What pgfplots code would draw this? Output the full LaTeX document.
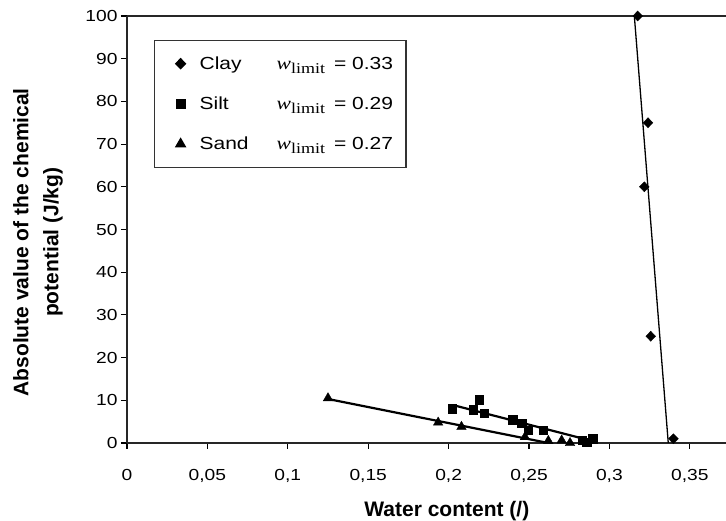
\documentclass[border=0pt]{standalone}
\usepackage{fontspec}
\setmainfont{Liberation Sans}
\newfontfamily\stretchsans{Liberation Sans}[FakeStretch=1.2]
\newfontfamily\stretchserif{Liberation Serif}[FakeStretch=1.2]
\usepackage{pgfplots}
\pgfplotsset{compat=1.18}
\newcommand{\wl}[1]{{\stretchserif\itshape\fontsize{18}{18}\selectfont w}\raisebox{-4pt}{\stretchserif\fontsize{15}{15}\selectfont limit}\hspace{9pt}#1}
\begin{document}
\begin{tikzpicture}
\begin{axis}[
  at={(0pt,0pt)}, anchor=south west,
  scale only axis, width=599pt, height=427pt,
  xmin=0, xmax=0.3725, ymin=0, ymax=100,
  axis x line*=box, axis y line*=left,
  axis line style={black!85, line width=1.3pt},
  xtick={0,0.05,0.1,0.15,0.2,0.25,0.3,0.35},
  xticklabels={0,{0,05},{0,1},{0,15},{0,2},{0,25},{0,3},{0,35}},
  xtick pos=bottom, ytick pos=left,
  ytick={0,10,...,100},
  tick align=outside, major tick length=6pt,
  tick style={black, line width=1.1pt},
  /pgf/number format/assume math mode=true,
  ticklabel style={font=\stretchsans\fontsize{16}{16}\selectfont},
  xticklabel style={yshift=-17pt},
  xlabel={Water content (/)},
  xlabel style={at={(axis description cs:0.534,0)}, anchor=north, inner sep=0pt, yshift=-58pt, font=\bfseries\fontsize{21}{21}\selectfont},
  ylabel={Absolute value of the chemical\\potential (J/kg)},
  ylabel style={at={(axis description cs:-0.1486,0.47)}, anchor=center, align=center, font=\bfseries\fontsize{21}{30}\selectfont},
  legend style={at={(axis description cs:0.0451,0.9438)}, anchor=north west, draw=black!80, line width=1.2pt,
    font=\stretchsans\fontsize{17.5}{17.5}\selectfont, inner xsep=10pt, inner ysep=16pt, row sep=26pt,
    nodes={inner xsep=3pt, inner ysep=0pt}},
  legend cell align=left,
  legend image code/.code={\path[draw=none,fill=none] (0pt,-5pt) rectangle (32pt,5pt); \draw[#1] plot coordinates {(16pt,0pt)};},
]
\addplot[only marks, mark=diamond*, mark size=5pt, mark options={xscale=1.3}, black] coordinates {
(0.3176,100) (0.3240,75) (0.3217,60) (0.3257,25) (0.3398,1)};
\addlegendentry{\makebox[77pt][l]{Clay}\wl{= 0.33}}
\addplot[only marks, mark=square*, mark size=4.3pt, black] coordinates {
(0.2023,8.0) (0.2191,10.2) (0.2154,7.8) (0.2222,7.0) (0.2400,5.5) (0.2455,4.6) (0.2496,3.0) (0.2589,3.0) (0.2830,0.7) (0.2860,0.2) (0.2896,1.0)};
\addlegendentry{\makebox[77pt][l]{Silt}\wl{= 0.29}}
\addplot[only marks, mark=triangle*, mark size=5.5pt, black] coordinates {
(0.125,10.5) (0.1935,4.8) (0.2080,3.8) (0.2475,1.4) (0.2620,0.5) (0.2703,0.6) (0.2755,0.0)};
\addlegendentry{\makebox[77pt][l]{Sand}\wl{= 0.27}}
\addplot[black, line width=1.3pt, forget plot] coordinates {(0.3155,100) (0.3366,0)};
\addplot[black, line width=2.2pt, forget plot] coordinates {(0.2046,8.7) (0.2880,0.6)};
\addplot[black, line width=2.2pt, forget plot] coordinates {(0.125,10.3) (0.2620,0)};
\end{axis}
\pgfresetboundingbox
\path[use as bounding box] (-127pt,-78pt) rectangle (599pt,443pt);
\end{tikzpicture}
\end{document}
